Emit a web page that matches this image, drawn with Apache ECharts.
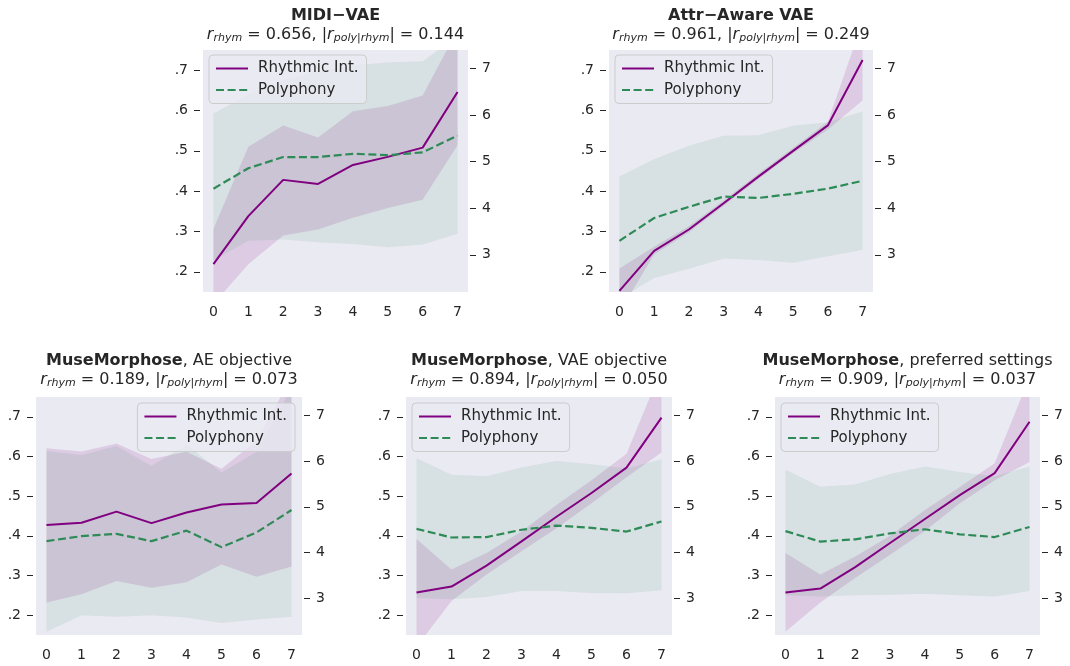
<!DOCTYPE html>
<html><head><meta charset="utf-8">
<script src="https://cdn.jsdelivr.net/npm/echarts@6/dist/echarts.min.js"></script>
<style>html,body{margin:0;padding:0;background:#fff}#c{width:1070px;height:666px}</style>
</head><body><div id="c"></div>
<script>
// ---------- data ----------
const xTicks = [0, 1, 2, 3, 4, 5, 6, 7];
const leftTicks = [0.2, 0.3, 0.4, 0.5, 0.6, 0.7];
const rightTicks = [3, 4, 5, 6, 7];
const seriesNames = ['Rhythmic Int.', 'Polyphony'];

const midiRhym   = [0.219, 0.338, 0.428, 0.418, 0.465, 0.485, 0.508, 0.646];
const midiRhymLo = [0.12, 0.219, 0.29, 0.305, 0.334, 0.358, 0.379, 0.514];
const midiRhymHi = [0.307, 0.51, 0.563, 0.533, 0.598, 0.611, 0.637, 0.80];
const midiPoly   = [4.42, 4.86, 5.10, 5.10, 5.17, 5.14, 5.20, 5.56];
const midiPolyLo = [2.88, 3.30, 3.33, 3.27, 3.23, 3.16, 3.22, 3.45];
const midiPolyHi = [6.03, 6.45, 6.75, 6.95, 7.07, 7.13, 7.16, 7.7];

const attrRhym   = [0.153, 0.252, 0.305, 0.37, 0.436, 0.50, 0.563, 0.725];
const attrRhymLo = [0.10, 0.243, 0.298, 0.364, 0.43, 0.494, 0.553, 0.625];
const attrRhymHi = [0.208, 0.262, 0.313, 0.377, 0.443, 0.507, 0.572, 0.82];
const attrPoly   = [3.30, 3.79, 4.03, 4.25, 4.22, 4.31, 4.42, 4.59];
const attrPolyLo = [2.05, 2.50, 2.70, 2.92, 2.89, 2.83, 2.97, 3.11];
const attrPolyHi = [4.68, 5.05, 5.34, 5.56, 5.57, 5.77, 5.85, 6.08];

const aeRhym   = [0.4275, 0.433, 0.461, 0.432, 0.459, 0.479, 0.483, 0.557];
const aeRhymLo = [0.232, 0.2525, 0.286, 0.269, 0.283, 0.3275, 0.297, 0.323];
const aeRhymHi = [0.621, 0.6125, 0.633, 0.594, 0.612, 0.569, 0.64, 0.80];
const aePoly   = [4.25, 4.36, 4.41, 4.25, 4.48, 4.12, 4.44, 4.93];
const aePolyLo = [2.27, 2.63, 2.60, 2.63, 2.58, 2.46, 2.54, 2.60];
const aePolyHi = [6.22, 6.13, 6.33, 5.89, 6.36, 5.75, 6.20, 7.6];

const vaeRhym   = [0.257, 0.272, 0.325, 0.386, 0.448, 0.508, 0.572, 0.698];
const vaeRhymLo = [0.12, 0.236, 0.3025, 0.361, 0.419, 0.482, 0.548, 0.61];
const vaeRhymHi = [0.392, 0.315, 0.357, 0.411, 0.4775, 0.54, 0.607, 0.82];
const vaePoly   = [4.52, 4.33, 4.34, 4.50, 4.59, 4.54, 4.46, 4.68];
const vaePolyLo = [3.01, 2.98, 3.03, 3.16, 3.16, 3.12, 3.11, 3.18];
const vaePolyHi = [6.06, 5.70, 5.67, 5.86, 6.00, 5.93, 5.84, 6.04];

const prefRhym   = [0.257, 0.267, 0.321, 0.382, 0.4425, 0.5025, 0.558, 0.6875];
const prefRhymLo = [0.158, 0.232, 0.294, 0.3525, 0.4125, 0.482, 0.54, 0.586];
const prefRhymHi = [0.357, 0.3025, 0.348, 0.40, 0.465, 0.523, 0.583, 0.80];
const prefPoly   = [4.47, 4.24, 4.29, 4.42, 4.51, 4.40, 4.34, 4.56];
const prefPolyLo = [3.07, 3.04, 3.07, 3.08, 3.10, 3.07, 3.04, 3.16];
const prefPolyHi = [5.81, 5.44, 5.49, 5.72, 5.88, 5.76, 5.67, 5.88];

const panelTitles = [
  {bold: 'MIDI\u2212VAE', rest: '', rRhym: '0.656', rPoly: '0.144'},
  {bold: 'Attr\u2212Aware VAE', rest: '', rRhym: '0.961', rPoly: '0.249'},
  {bold: 'MuseMorphose', rest: ', AE objective', rRhym: '0.189', rPoly: '0.073'},
  {bold: 'MuseMorphose', rest: ', VAE objective', rRhym: '0.894', rPoly: '0.050'},
  {bold: 'MuseMorphose', rest: ', preferred settings', rRhym: '0.909', rPoly: '0.037'}
];
const panelData = [
  [midiRhym, midiRhymLo, midiRhymHi, midiPoly, midiPolyLo, midiPolyHi],
  [attrRhym, attrRhymLo, attrRhymHi, attrPoly, attrPolyLo, attrPolyHi],
  [aeRhym, aeRhymLo, aeRhymHi, aePoly, aePolyLo, aePolyHi],
  [vaeRhym, vaeRhymLo, vaeRhymHi, vaePoly, vaePolyLo, vaePolyHi],
  [prefRhym, prefRhymLo, prefRhymHi, prefPoly, prefPolyLo, prefPolyHi]
];

// ---------- layout ----------
const layouts = [
  {grid: {left: 203, top: 50, width: 265, height: 242}, titleTop: 6, legend: {left: 209, top: 55}},
  {grid: {left: 609, top: 50, width: 264, height: 242}, titleTop: 6, legend: {left: 615, top: 55}},
  {grid: {left: 36, top: 397, width: 266, height: 238}, titleTop: 351, legend: {right: 775, top: 403}},
  {grid: {left: 406, top: 397, width: 266, height: 238}, titleTop: 351, legend: {left: 412, top: 403}},
  {grid: {left: 775, top: 397, width: 265, height: 238}, titleTop: 351, legend: {left: 781, top: 403}}
];

const PURPLE = '#800080', GREEN = '#2E8B57', INK = '#262626';
const FONT = 'DejaVu Sans';

const rich = {
  b: {fontFamily: FONT, fontWeight: 'bold', fontSize: 16, color: INK, lineHeight: 19},
  t: {fontFamily: FONT, fontWeight: 'normal', fontSize: 16, color: INK, lineHeight: 19},
  i: {fontFamily: FONT, fontWeight: 'normal', fontStyle: 'italic', fontSize: 16, color: INK, lineHeight: 19},
  s: {fontFamily: FONT, fontWeight: 'normal', fontStyle: 'italic', fontSize: 11, color: INK, lineHeight: 12, padding: [7, 0, 0, 0]},
  n: {fontFamily: FONT, fontWeight: 'normal', fontSize: 16, color: INK, lineHeight: 19}
};

const option = {
  animation: false,
  backgroundColor: '#ffffff',
  textStyle: {fontFamily: FONT},
  title: [], legend: [], grid: [], xAxis: [], yAxis: [], series: []
};

const pairs = arr => xTicks.map((x, j) => [x, arr[j]]);

function bandSeries(i, yIdx, lo, hi, color) {
  return {
    type: 'custom', xAxisIndex: i, yAxisIndex: yIdx, silent: true, clip: true,
    data: xTicks.map((x, j) => [x, lo[j], hi[j]]),
    encode: {x: 0, y: [1, 2]},
    renderItem: function (params, api) {
      if (params.dataIndex !== 0) return null;
      const pts = [];
      for (let j = 0; j < xTicks.length; j++) pts.push(api.coord([xTicks[j], hi[j]]));
      for (let j = xTicks.length - 1; j >= 0; j--) pts.push(api.coord([xTicks[j], lo[j]]));
      return {type: 'polygon', shape: {points: pts}, style: {fill: color}};
    }
  };
}

layouts.forEach((L, i) => {
  const T = panelTitles[i];
  const [rh, rhLo, rhHi, po, poLo, poHi] = panelData[i];
  const cx = L.grid.left + L.grid.width / 2;
  option.title.push({
    text: '{b|' + T.bold + '}' + (T.rest ? '{t|' + T.rest + '}' : '') +
      '\n{i|r}{s|rhym}{n| = ' + T.rRhym + ', |}{i|r}{s|poly|rhym}{n|| = ' + T.rPoly + '}',
    left: cx, top: L.titleTop, textAlign: 'center', padding: 0,
    textStyle: {rich: rich, fontFamily: FONT, fontWeight: 'normal', fontSize: 16, color: INK}
  });
  option.grid.push(Object.assign({show: true, backgroundColor: '#EAEAF2', borderWidth: 0}, L.grid));
  option.xAxis.push({
    type: 'value', gridIndex: i, min: -0.3, max: 7.3,
    axisLine: {show: false, onZero: false}, axisTick: {show: false}, splitLine: {show: false},
    axisLabel: {customValues: xTicks, margin: 13, fontSize: 14, color: INK, fontFamily: FONT}
  });
  option.yAxis.push({
    type: 'value', gridIndex: i, position: 'left', min: 0.15, max: 0.75, offset: 3,
    axisLine: {show: false, onZero: false}, splitLine: {show: false},
    axisTick: {show: true, inside: false, customValues: leftTicks, length: 6, lineStyle: {color: INK, width: 1}},
    axisLabel: {customValues: leftTicks, margin: 12, fontSize: 14, color: INK, fontFamily: FONT,
      formatter: v => v.toFixed(1).replace(/^0/, '')}
  });
  option.yAxis.push({
    type: 'value', gridIndex: i, position: 'right', min: 2.2, max: 7.4, offset: 2,
    axisLine: {show: false, onZero: false}, splitLine: {show: false},
    axisTick: {show: true, inside: false, customValues: rightTicks, length: 6, lineStyle: {color: INK, width: 1}},
    axisLabel: {customValues: rightTicks, margin: 12, fontSize: 14, color: INK, fontFamily: FONT,
      formatter: v => String(Math.round(v))}
  });
  const yl = 2 * i, yr = 2 * i + 1;
  const base = {type: 'line', xAxisIndex: i, symbol: 'none', silent: true, clip: true};
  option.series.push(bandSeries(i, yl, rhLo, rhHi, 'rgba(128,0,128,0.13)'));
  option.series.push(Object.assign({}, base, {name: seriesNames[0], yAxisIndex: yl,
    data: pairs(rh), lineStyle: {color: PURPLE, width: 2}, itemStyle: {color: PURPLE}}));
  option.series.push(bandSeries(i, yr, poLo, poHi, 'rgba(46,139,87,0.10)'));
  option.series.push(Object.assign({}, base, {name: seriesNames[1], yAxisIndex: yr,
    data: pairs(po), lineStyle: {color: GREEN, width: 2.2, type: [8, 3.6]}, itemStyle: {color: GREEN}}));
  option.legend.push(Object.assign({
    data: seriesNames, orient: 'vertical', itemWidth: 32, itemHeight: 14, itemGap: 6.5,
    padding: [6, 8, 6, 6], backgroundColor: 'rgba(234,234,242,0.8)', borderColor: '#cccccc',
    borderWidth: 1, borderRadius: 4, selectedMode: false,
    itemStyle: {opacity: 0},
    textStyle: {fontSize: 15, color: INK, fontFamily: FONT, padding: [0, 0, 0, 5]}
  }, L.legend));
});

const chart = echarts.init(document.getElementById('c'), null, {renderer: 'canvas'});
chart.setOption(option);
</script>
</body></html>
